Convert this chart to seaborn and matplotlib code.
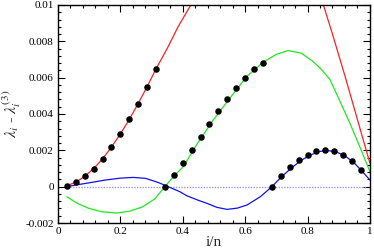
import numpy as np
import pandas as pd
import matplotlib
matplotlib.use('Agg')
import matplotlib.pyplot as plt
from matplotlib.ticker import MultipleLocator, FixedLocator, FixedFormatter
import seaborn as sns

# curves
red_x = [0.0286, 0.057, 0.086, 0.114, 0.143, 0.171, 0.2, 0.229, 0.257, 0.286, 0.314,
         0.35, 0.385, 0.426, 0.47, 0.52, 0.57, 0.62, 0.67, 0.72, 0.77, 0.81, 0.851,
         0.88, 0.92, 0.96, 1.0]
red_y = [0.00006, 0.00024, 0.00057, 0.00099, 0.00153, 0.00217, 0.0029, 0.00371, 0.00457,
         0.00551, 0.00647, 0.0076, 0.0088, 0.0100, 0.0114, 0.0127, 0.0139, 0.0146, 0.0149,
         0.0144, 0.0133, 0.0119, 0.0100, 0.0084, 0.0061, 0.0037, 0.0013]

green_x = [0.0286, 0.06, 0.10, 0.14, 0.19, 0.23, 0.27, 0.31, 0.343, 0.37, 0.402, 0.444,
           0.498, 0.551, 0.605, 0.658, 0.70, 0.738, 0.78, 0.818, 0.845, 0.872, 0.90,
           0.936, 0.968, 1.0]
green_y = [-0.00055, -0.0009, -0.0012, -0.00138, -0.00145, -0.00135, -0.00112, -0.00068,
           0.0, 0.00055, 0.0011, 0.0023, 0.00367, 0.00487, 0.00606, 0.00685, 0.00728,
           0.00749, 0.00735, 0.00689, 0.00645, 0.0059, 0.00485, 0.00349, 0.00218, 0.00083]

blue_x = [0.0286, 0.06, 0.103, 0.15, 0.2, 0.241, 0.28, 0.32, 0.348, 0.391, 0.413, 0.45,
          0.478, 0.51, 0.542, 0.575, 0.606, 0.649, 0.686, 0.717, 0.75, 0.78, 0.81, 0.84,
          0.862, 0.89, 0.92, 0.95, 0.975, 1.0]
blue_y = [0.0, 0.0001, 0.00022, 0.00036, 0.00047, 0.00051, 0.00046, 0.00024, 0.00004,
          -0.00028, -0.0005, -0.00075, -0.00092, -0.00114, -0.00125, -0.00118, -0.00101,
          -0.00055, 0.0, 0.00055, 0.00105, 0.00145, 0.00175, 0.00194, 0.00199, 0.00193,
          0.0017, 0.0013, 0.00085, 0.00037]

# data points (i/n, i = 1..34, n = 35)
pts_x = [i / 35 for i in range(1, 35)]
pts_y = [0.00006, 0.00024, 0.00057, 0.00099, 0.00153, 0.00217, 0.0029, 0.00371, 0.00457,
         0.00551, 0.00647,
         0.0, 0.00064, 0.00132, 0.00202, 0.00275, 0.00347, 0.00419, 0.00485, 0.00545,
         0.006, 0.00646, 0.0068,
         0.0, 0.00059, 0.00107, 0.00147, 0.00175, 0.00195, 0.002, 0.00195, 0.00173,
         0.0014, 0.00094]

zero_x = [0.0286, 0.99]
zero_y = [0.0, 0.0]

sns.set_style('ticks')
plt.rcParams['font.family'] = ['Liberation Serif', 'DejaVu Serif']
plt.rcParams['mathtext.fontset'] = 'stix'

fig = plt.figure(figsize=(3.74, 2.49), dpi=100)
ax = fig.add_axes([0.155, 0.1044, 0.834, 0.8756])

sns.lineplot(x=zero_x, y=zero_y, color='#9a9aff', lw=1.0, linestyle=(0, (1, 1)), ax=ax)
sns.lineplot(x=red_x, y=red_y, color='#ff2020', lw=0.9, sort=False, estimator=None, ax=ax)
sns.lineplot(x=green_x, y=green_y, color='#20e820', lw=0.9, sort=False, estimator=None, ax=ax)
sns.lineplot(x=blue_x, y=blue_y, color='#1010ee', lw=0.9, sort=False, estimator=None, ax=ax)
sns.scatterplot(x=pts_x, y=pts_y, color='black', s=22, edgecolor='black', linewidth=0, ax=ax, zorder=5)

ax.set_xlim(0, 1)
ax.set_ylim(-0.002, 0.01)
ax.xaxis.set_major_locator(FixedLocator([0, 0.2, 0.4, 0.6, 0.8, 1.0]))
ax.xaxis.set_major_formatter(FixedFormatter(['0', '0.2', '0.4', '0.6', '0.8', '1']))
ax.xaxis.set_minor_locator(MultipleLocator(0.04))
yt = [-0.002, 0, 0.002, 0.004, 0.006, 0.008, 0.01]
ax.yaxis.set_major_locator(FixedLocator(yt))
ax.yaxis.set_major_formatter(FixedFormatter(['-0.002', '0', '0.002', '0.004', '0.006', '0.008', '0.01']))
ax.yaxis.set_minor_locator(MultipleLocator(0.0004))
ax.tick_params(which='both', direction='in', top=True, right=True, labelsize=8, width=0.8, colors='black')
ax.tick_params(which='major', length=5, pad=3)
ax.tick_params(which='minor', length=2.5)
for s in ax.spines.values():
    s.set_linewidth(1.0)
    s.set_color('black')

ax.set_xlabel('i/n', fontsize=11, labelpad=0)
ax.set_ylabel(r'$\lambda_i$ - $\lambda_i^{(3)}$', fontsize=11.5, labelpad=2)

fig.savefig('out.png', dpi=100)
